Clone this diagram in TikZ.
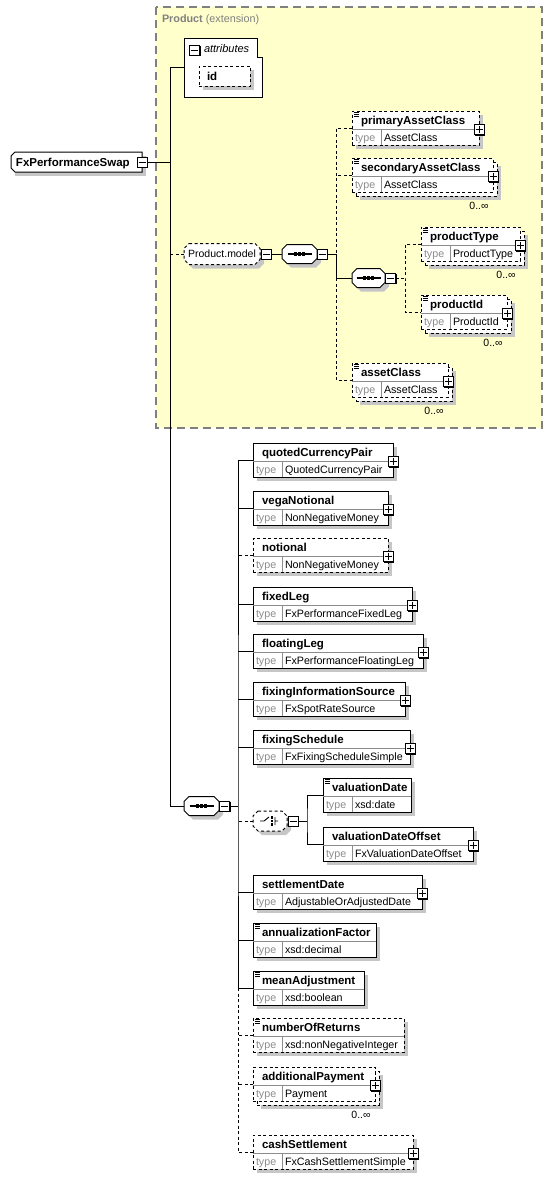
\documentclass[tikz,border=0pt]{standalone}
\usepackage{fontspec}
\setmainfont{Liberation Sans}
\usepackage{tikz}
\usetikzlibrary{positioning,shadows}
\definecolor{prodyellow}{RGB}{255,255,204}
\definecolor{shadegray}{RGB}{198,198,198}
\definecolor{framegray}{RGB}{128,128,128}
\definecolor{typegray}{RGB}{140,140,140}
% element box: [multi] name border x y width label type
\newcommand{\elem}[8][0]{%
  \ifnum#1=1
    \node[elbox,#3,shadowed,minimum width=#6,anchor=north west] (#2back) at (#4+4,#5+4) {};
    \node[elbox,#3,minimum width=#6,anchor=north west] (#2) at (#4,#5) {};
    \node[occ] (#2occ) at (#4+#6-14,#5+48) {0..∞};
  \else
    \node[elbox,#3,shadowed,minimum width=#6,anchor=north west] (#2) at (#4,#5) {};
  \fi
  \draw[sepline] ([yshift=-18pt]#2.north west) -- ([yshift=-18pt]#2.north east);
  \draw[sepline] ([xshift=29pt,yshift=-18pt]#2.north west) -- ([xshift=29pt]#2.south west);
  \node[elname,anchor=base west] (#2name) at ([xshift=9pt,yshift=-13.5pt]#2.north west) {#7};
  \node[eltype,anchor=base west] (#2key) at ([xshift=3pt,yshift=-30pt]#2.north west) {type};
  \node[eltype,text=black,anchor=base west] (#2type) at ([xshift=32pt,yshift=-30pt]#2.north west) {#8};
}
\newcommand{\plusb}[1]{\node[plusbox] (#1plus) at ([yshift=-18.5pt]#1.north east) {};}
\newcommand{\simpmark}[1]{\draw[line width=0.7pt] ([xshift=2pt,yshift=-1.5pt]#1.north west) -- ++(5,0)
  ([xshift=2pt,yshift=-3.5pt]#1.north west) -- ++(5,0) ([xshift=2pt,yshift=-5.5pt]#1.north west) -- ++(5,0);}
% octagon round a node
\newcommand{\octpath}[2]{([xshift=#2]#1.north west) -- ([xshift=-#2]#1.north east) -- ([yshift=-#2]#1.north east)
  -- ([yshift=#2]#1.south east) -- ([xshift=-#2]#1.south east) -- ([xshift=#2]#1.south west)
  -- ([yshift=#2]#1.south west) -- ([yshift=-#2]#1.north west) -- cycle}
\newcommand{\octo}[3][]{%
  \fill[shadegray,transform canvas={shift={(4pt,-4pt)}}] \octpath{#2}{#3};
  \draw[fill=white,#1] \octpath{#2}{#3};}
\newcommand{\seqsym}[1]{%
  \draw[line width=1.2pt] ([xshift=-12pt]#1.center) -- ([xshift=12pt]#1.center);
  \foreach \d in {-4,0,4} \fill ([xshift=\d pt]#1.center) +(-1.6,-1.6) rectangle +(1.6,1.6);}

\begin{document}
\begin{tikzpicture}[x=1pt,y=-1pt,line width=1pt,
    every node/.style={inner sep=0pt,outer sep=0pt},
    shadowed/.style={drop shadow={shadow xshift=4pt,shadow yshift=-4pt,fill=shadegray,opacity=1}},
    opt/.style={dash pattern=on 3pt off 2.5pt},
    elbox/.style={draw,fill=white,minimum height=34},
    sepline/.style={draw=typegray,line width=0.8pt},
    elname/.style={font=\fontsize{11.5}{13}\selectfont\bfseries},
    eltype/.style={font=\fontsize{10.7}{12}\selectfont,text=typegray},
    occ/.style={font=\fontsize{10.5}{12}\selectfont},
    pmbox/.style={draw,fill=white,minimum size=10,line width=0.8pt,
      drop shadow={shadow xshift=1pt,shadow yshift=-1pt,fill=black,opacity=1}},
    plusbox/.style={pmbox,path picture={\begin{scope}[shift={(path picture bounding box.center)}]
      \draw[line width=0.8pt] (-3.5,0) -- (3.5,0) (0,-3.5) -- (0,3.5);\end{scope}}},
    minusbox/.style={pmbox,path picture={\begin{scope}[shift={(path picture bounding box.center)}]
      \draw[line width=0.8pt] (-3.5,0) -- (3.5,0);\end{scope}}},
    grp/.style={minimum width=35,minimum height=19}]
  \useasboundingbox (0,0) rectangle (553,1179);

  % Product extension
  \fill[prodyellow] (156,7) rectangle (542,428);
  \draw[framegray,line width=1.5pt,dash pattern=on 8pt off 5pt] (156,7) rectangle (542,428);
  \node[anchor=base west,text=framegray,font=\fontsize{10.8}{12}\selectfont] (extlbl) at (162,22) {\textbf{Product} (extension)};

  % root
  \node[minimum width=131,minimum height=20] (swap) at (76.5,162) {};
  \fill[shadegray] ([shift={(4pt,-4pt)}]swap.north west) -- ([shift={(4pt,-4pt)}]swap.north east)
    -- ([shift={(4pt,-4pt)}]swap.south east) -- ([shift={(4pt,-4pt)}]swap.south west) -- cycle;
  \draw[fill=white] ([xshift=4pt]swap.north west) -- (swap.north east) -- (swap.south east)
    -- ([xshift=4pt]swap.south west) -- ([yshift=4pt]swap.south west) -- ([yshift=-4pt]swap.north west) -- cycle;
  \node[elname,anchor=base west] (swaplbl) at (16,166) {FxPerformanceSwap};
  \node[minusbox] (swapminus) at (142,162) {};
  \coordinate (tr) at (170,162);

  % attributes
  \node[minimum width=78,minimum height=59,anchor=north west] (attr) at (184,38) {};
  \draw[fill=white] (attr.north west) -- ([xshift=-5pt]attr.north east) -- ++(0,19) -- ++(5,0)
    -- (attr.south east) -- (attr.south west) -- cycle;
  \node[minusbox] (attrminus) at (194.5,50) {};
  \node[anchor=base west,font=\fontsize{11}{12}\selectfont\itshape] (attrlbl) at (204,52) {attributes};
  \node[draw,opt,fill=white,shadowed,minimum width=51,minimum height=20,anchor=north west] (idbox) at (199,66) {};
  \node[elname,anchor=base west] (idlbl) at (207,80) {id};

  % Product.model
  \node[minimum width=76,minimum height=21] (pmodel) at (222,254) {};
  \octo[opt]{pmodel}{5pt}
  \node[font=\fontsize{10.5}{12}\selectfont] (pmodellbl) at (222,254) {Product.model};
  \node[minusbox] (pmodelminus) at (266,254) {};
  \node[grp] (seqA) at (299.5,254) {};
  \octo{seqA}{5pt}
  \seqsym{seqA}
  \node[minusbox] (seqAminus) at (322,254) {};
  \coordinate (upt) at (336,254);
  \node[grp,minimum width=33] (seqC) at (368.5,278) {};
  \octo{seqC}{5pt}
  \seqsym{seqC}
  \node[minusbox] (seqCminus) at (390.5,278) {};
  \coordinate (ct) at (405,278);

  \elem{primary}{opt}{352}{111}{127}{primaryAssetClass}{AssetClass}
  \elem[1]{secondary}{opt}{352}{158}{141}{secondaryAssetClass}{AssetClass}
  \elem[1]{prodtype}{opt}{421}{227}{99}{productType}{ProductType}
  \elem[1]{prodid}{opt}{421}{295}{86}{productId}{ProductId}
  \elem[1]{assetcls}{opt}{352}{363}{96}{assetClass}{AssetClass}
  \foreach \n in {primary,secondary,prodtype,prodid,assetcls} {\plusb{\n} \simpmark{\n}}

  \draw (swapminus) -- (tr);
  \draw (attr.west) -| (tr);
  \draw[opt] (pmodel.west) -- (pmodel.west -| tr);
  \draw (pmodelminus) -- (seqA);
  \draw (seqAminus) -- (upt) |- (seqC);
  \draw[opt] (primary.west) -| (upt);
  \draw[opt] (secondary.west) -- (secondary.west -| upt);
  \draw[opt] (seqC.west -| upt) |- (assetcls.west);
  \draw[opt] (seqCminus) -- (ct);
  \draw[opt] (prodtype.west) -| (ct) |- (prodid.west);

  % content sequence
  \node[grp] (seqB) at (201.5,806) {};
  \octo{seqB}{5pt}
  \seqsym{seqB}
  \node[minusbox] (seqBminus) at (224.5,806) {};
  \coordinate (lt) at (238,806);
  \draw (tr) |- (seqB);
  \node[grp,minimum width=34,minimum height=20] (choice) at (270,821) {};
  \octo[opt]{choice}{5pt}
  \draw[line width=0.9pt] ([xshift=-10pt]choice.center) -- ++(4,0) -- ++(5,-4)
    ([xshift=5pt,yshift=4pt]choice.center) -- ++(0,8) ([xshift=5pt]choice.center) -- ++(3,0);
  \foreach \d in {-3.5,0,3.5} \fill ([xshift=2pt,yshift=\d pt]choice.center) +(-1.2,-1.2) rectangle +(1.2,1.2);
  \node[minusbox] (choiceminus) at (293,821) {};
  \coordinate (cht) at (307,821);

  \elem{quoted}{solid}{253}{443}{140}{quotedCurrencyPair}{QuotedCurrencyPair}
  \elem{vega}{solid}{253}{491}{135}{vegaNotional}{NonNegativeMoney}
  \elem{notional}{opt}{253}{538}{135}{notional}{NonNegativeMoney}
  \elem{fixedleg}{solid}{253}{587}{159}{fixedLeg}{FxPerformanceFixedLeg}
  \elem{floatleg}{solid}{253}{634}{170}{floatingLeg}{FxPerformanceFloatingLeg}
  \elem{fixsrc}{solid}{253}{682}{152}{fixingInformationSource}{FxSpotRateSource}
  \elem{fixsched}{solid}{253}{730}{157}{fixingSchedule}{FxFixingScheduleSimple}
  \elem{valdate}{solid}{323}{778}{88}{valuationDate}{xsd:date}
  \elem{valoffset}{solid}{323}{827}{150}{valuationDateOffset}{FxValuationDateOffset}
  \elem{settle}{solid}{253}{875}{169}{settlementDate}{AdjustableOrAdjustedDate}
  \elem{annual}{solid}{253}{923}{123}{annualizationFactor}{xsd:decimal}
  \elem{meanadj}{solid}{253}{971}{111}{meanAdjustment}{xsd:boolean}
  \elem{numret}{opt}{253}{1018}{151}{numberOfReturns}{xsd:nonNegativeInteger}
  \elem[1]{addpay}{opt}{253}{1067}{122}{additionalPayment}{Payment}
  \elem{cashset}{opt}{253}{1135}{160}{cashSettlement}{FxCashSettlementSimple}
  \foreach \n in {quoted,vega,notional,fixedleg,floatleg,fixsrc,fixsched,valoffset,settle,addpay,cashset} {\plusb{\n}}
  \foreach \n in {valdate,annual,meanadj,numret} {\simpmark{\n}}

  \draw (seqBminus) -- (lt);
  \draw (quoted.west) -| (lt) |- (meanadj.west);
  \foreach \n in {vega,fixedleg,floatleg,fixsrc,fixsched,settle,annual} \draw (\n.west) -- (\n.west -| lt);
  \foreach \n in {notional,choice,numret,addpay} \draw[opt] (\n.west) -- (\n.west -| lt);
  \draw[opt] (meanadj.west -| lt) |- (cashset.west);
  \draw (choiceminus) -- (cht);
  \draw (valdate.west) -| (cht) |- (valoffset.west);
\end{tikzpicture}
\end{document}
